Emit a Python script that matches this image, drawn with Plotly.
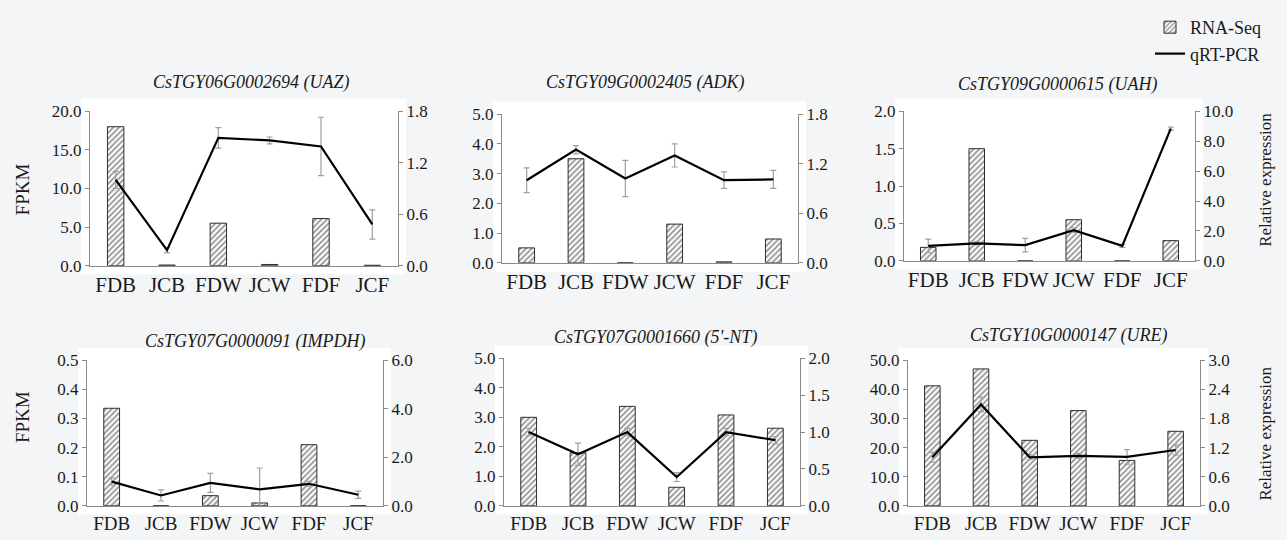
import plotly.graph_objects as go

W, H = 1287, 540

categories = ["FDB", "JCB", "FDW", "JCW", "FDF", "JCF"]

titles = [
    "CsTGY06G0002694 (UAZ)",
    "CsTGY09G0002405 (ADK)",
    "CsTGY09G0000615 (UAH)",
    "CsTGY07G0000091 (IMPDH)",
    "CsTGY07G0001660 (5'-NT)",
    "CsTGY10G0000147 (URE)",
]

# RNA-Seq FPKM (left axis)
uaz_fpkm = [18.0, 0.08, 5.5, 0.15, 6.1, 0.05]
adk_fpkm = [0.5, 3.5, 0.0, 1.3, 0.03, 0.8]
uah_fpkm = [0.18, 1.5, 0.0, 0.55, 0.0, 0.27]
impdh_fpkm = [0.335, 0.0, 0.035, 0.01, 0.21, 0.0]
nt_fpkm = [3.0, 1.8, 3.37, 0.63, 3.08, 2.63]
ure_fpkm = [41.2, 47.0, 22.5, 32.7, 15.6, 25.6]

# qRT-PCR relative expression (right axis)
uaz_qpcr = [1.00, 0.18, 1.49, 1.46, 1.39, 0.48]
adk_qpcr = [1.00, 1.37, 1.02, 1.30, 1.00, 1.01]
uah_qpcr = [1.00, 1.16, 1.05, 2.05, 1.00, 8.84]
impdh_qpcr = [1.00, 0.43, 0.95, 0.68, 0.91, 0.46]
nt_qpcr = [1.00, 0.70, 1.00, 0.39, 1.00, 0.89]
ure_qpcr = [1.00, 2.09, 1.00, 1.03, 1.01, 1.15]

# qRT-PCR error bars
uaz_err = [0.10, 0.03, 0.12, 0.04, 0.34, 0.17]
adk_err = [0.15, 0.05, 0.22, 0.14, 0.10, 0.11]
uah_err = [0.45, 0.10, 0.45, 0.15, 0.10, 0.10]
impdh_err = [0.15, 0.23, 0.39, 0.88, 0.10, 0.15]
nt_err = [0.05, 0.15, 0.05, 0.06, 0.05, 0.05]
ure_err = [0.10, 0.15, 0.05, 0.05, 0.15, 0.10]

fpkm_sets = [uaz_fpkm, adk_fpkm, uah_fpkm, impdh_fpkm, nt_fpkm, ure_fpkm]
qpcr_sets = [uaz_qpcr, adk_qpcr, uah_qpcr, impdh_qpcr, nt_qpcr, ure_qpcr]
err_sets = [uaz_err, adk_err, uah_err, impdh_err, nt_err, ure_err]

left_ranges = [(20, 5), (5, 1), (2, 0.5), (0.5, 0.1), (5, 1), (50, 10)]
right_ranges = [(1.8, 0.6), (1.8, 0.6), (10, 2), (6, 2), (2, 0.5), (3, 0.6)]

# panel boxes in pixels: x0, x1, ytop, ybottom
boxes = [
    (90, 398, 106, 266),
    (502, 798, 109, 263),
    (904, 1195, 106, 261),
    (87, 383, 364, 515),
    (504, 800, 362, 515),
    (908, 1200, 364, 515),
]
title_pos = [(251, 76), (646, 76), (1058, 78), (255, 345), (655, 340), (1069, 338)]

FONT = "Liberation Serif"
AXC = "#8a8a8a"
TXT = "#1a1a1a"

fig = go.Figure()
layout = dict(
    width=W, height=H,
    margin=dict(l=0, r=0, t=0, b=0),
    paper_bgcolor="#f4f5f7",
    plot_bgcolor="white",
    font=dict(family=FONT, color=TXT, size=15),
    showlegend=True,
    legend=dict(x=1150 / W, y=1 - 0 / H, xanchor="left", yanchor="top",
                bgcolor="rgba(0,0,0,0)", font=dict(size=18, family=FONT, color=TXT),
                tracegroupgap=0, traceorder="grouped"),
)
shapes = []
annotations = []

for i in range(6):
    n = i + 1
    x0, x1, yt, yb = boxes[i]
    xd = [x0 / W, x1 / W]
    yd = [1 - yb / H, 1 - yt / H]
    xa = "x" if n == 1 else f"x{n}"
    ya = "y" if n == 1 else f"y{n}"
    yr = f"y{n + 6}"
    layout[f"xaxis{n}"] = dict(
        domain=xd, anchor=ya, type="category", range=[-0.5, 5.5],
        showline=True, linecolor=AXC, linewidth=1, ticks="",
        tickfont=dict(size=21 if i < 3 else 19, family=FONT, color=TXT), showgrid=False,
    )
    lmax, ldt = left_ranges[i]
    layout[f"yaxis{n}"] = dict(
        domain=yd, anchor=xa, range=[0, lmax], dtick=ldt, tick0=0,
        tickformat=".1f", showline=True, linecolor=AXC, linewidth=1,
        ticks="outside", ticklen=4, tickcolor=AXC, showgrid=False, zeroline=False,
        tickfont=dict(size=17, family=FONT, color=TXT),
    )
    rmax, rdt = right_ranges[i]
    layout[f"yaxis{n + 6}"] = dict(
        overlaying=ya, anchor=xa, side="right", range=[0, rmax], dtick=rdt, tick0=0,
        tickformat=".1f", showline=True, linecolor=AXC, linewidth=1,
        ticks="outside", ticklen=4, tickcolor=AXC, showgrid=False, zeroline=False,
        tickfont=dict(size=17, family=FONT, color=TXT),
    )
    fig.add_trace(go.Bar(
        x=categories, y=fpkm_sets[i], xaxis=xa, yaxis=ya,
        name="RNA-Seq", legendgroup="rna", showlegend=(i == 0),
        marker=dict(color="white", line=dict(color="#2e2e2e", width=1),
                    pattern=dict(shape="/", fgcolor="#262626", bgcolor="white",
                                 size=4, solidity=0.45)),
        width=0.32,
    ))
    fig.add_trace(go.Scatter(
        x=categories, y=qpcr_sets[i], xaxis=xa, yaxis=yr, mode="lines",
        name="qRT-PCR", legendgroup="qpcr", showlegend=(i == 0),
        line=dict(color="black", width=2.2),
        error_y=dict(type="data", array=err_sets[i], visible=True,
                     color="#a0a0a0", thickness=1.2, width=3),
    ))
    shapes.append(dict(type="rect", xref="paper", yref="paper", layer="below",
                       x0=(x0 - 9) / W, x1=(x1 + 8) / W,
                       y0=1 - (yb + 9) / H, y1=1 - (yt - 13) / H,
                       fillcolor="white", line=dict(width=0)))
    tx, ty = title_pos[i]
    annotations.append(dict(text=f"<i>{titles[i]}</i>", x=tx / W, y=1 - ty / H,
                            xref="paper", yref="paper", showarrow=False,
                            xanchor="center", yanchor="middle",
                            font=dict(size=18, family=FONT, color=TXT)))

for (lx, ly) in [(22, 187), (22, 423)]:
    annotations.append(dict(text="FPKM", x=lx / W, y=1 - ly / H, xref="paper", yref="paper",
                            showarrow=False, textangle=-90, xanchor="center", yanchor="middle",
                            font=dict(size=19, family=FONT, color=TXT)))
for (lx, ly) in [(1266, 177), (1266, 440)]:
    annotations.append(dict(text="Relative expression", x=lx / W, y=1 - ly / H,
                            xref="paper", yref="paper", showarrow=False, textangle=-90,
                            xanchor="center", yanchor="middle",
                            font=dict(size=17, family=FONT, color=TXT)))

layout["shapes"] = shapes
layout["annotations"] = annotations
fig.update_layout(**layout)
fig.write_html("out.html", config={"displayModeBar": False},
               post_script="document.body.style.margin='0px';")
